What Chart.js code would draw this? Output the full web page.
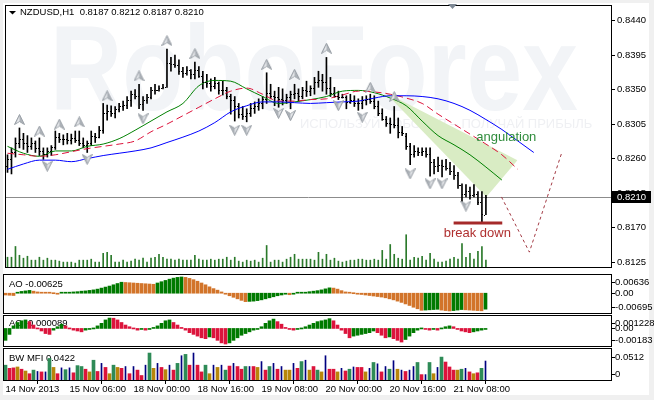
<!DOCTYPE html>
<html>
<head>
<meta charset="utf-8">
<script src="https://cdn.jsdelivr.net/npm/chart.js@4.4.1/dist/chart.umd.min.js"></script>
<style>
  html, body { margin: 0; padding: 0; }
  body { width: 654px; height: 400px; background: #f0f0f0; position: relative; overflow: hidden; }
  #frame { position: absolute; left: 3px; top: 3px; width: 646px; height: 392px; background: #fff; }
  canvas { position: absolute; left: 0; }
</style>
</head>
<body>
<div id="frame"></div>
<canvas id="priceChart" width="654" height="273" style="top:0"></canvas>
<canvas id="aoChart" width="654" height="41" style="top:273px"></canvas>
<canvas id="acChart" width="654" height="33" style="top:314px"></canvas>
<canvas id="mfiChart" width="654" height="53" style="top:347px"></canvas>
<script>
// NZDUSD H1 bars (index 0 = first bar on screen)
const highs = [
  0.8265,0.8274,0.8287,0.8300,0.8293,0.8290,0.8287,0.8283,0.8287,0.8274,
  0.8274,0.8277,0.8296,0.8293,0.8291,0.8293,0.8292,0.8296,0.8296,0.8287,
  0.8283,0.8296,0.8293,0.8302,0.8332,0.8330,0.8329,0.8328,0.8332,0.8335,
  0.8341,0.8348,0.8350,0.8357,0.8341,0.8344,0.8353,0.8357,0.8355,0.8357,
  0.8403,0.8392,0.8395,0.8389,0.8379,0.8380,0.8376,0.8386,0.8380,0.8374,
  0.8370,0.8364,0.8366,0.8360,0.8361,0.8353,0.8344,0.8341,0.8332,0.8328,
  0.8325,0.8332,0.8334,0.8338,0.8341,0.8372,0.8357,0.8348,0.8353,0.8351,
  0.8344,0.8348,0.8357,0.8351,0.8353,0.8361,0.8355,0.8366,0.8374,0.8370,
  0.8392,0.8366,0.8353,0.8348,0.8344,0.8342,0.8344,0.8342,0.8338,0.8341,
  0.8342,0.8344,0.8342,0.8335,0.8325,0.8315,0.8313,0.8328,0.8313,0.8302,
  0.8293,0.8280,0.8277,0.8274,0.8274,0.8274,0.8274,0.8259,0.8262,0.8258,
  0.8259,0.8255,0.8251,0.8242,0.8227,0.8226,0.8223,0.8226,0.8217,0.8217,
  0.8212
];
const lows = [
  0.8242,0.8240,0.8262,0.8274,0.8272,0.8268,0.8272,0.8268,0.8264,0.8259,
  0.8262,0.8264,0.8272,0.8281,0.8278,0.8279,0.8279,0.8281,0.8277,0.8274,
  0.8268,0.8277,0.8281,0.8287,0.8293,0.8310,0.8315,0.8313,0.8321,0.8323,
  0.8325,0.8328,0.8338,0.8325,0.8323,0.8332,0.8338,0.8344,0.8348,0.8351,
  0.8353,0.8374,0.8379,0.8370,0.8366,0.8369,0.8364,0.8364,0.8366,0.8351,
  0.8353,0.8348,0.8351,0.8344,0.8343,0.8338,0.8318,0.8309,0.8313,0.8311,
  0.8308,0.8315,0.8319,0.8323,0.8325,0.8332,0.8338,0.8329,0.8327,0.8330,
  0.8332,0.8325,0.8338,0.8335,0.8338,0.8341,0.8342,0.8344,0.8353,0.8348,
  0.8344,0.8341,0.8340,0.8337,0.8339,0.8325,0.8332,0.8328,0.8323,0.8325,
  0.8330,0.8332,0.8325,0.8316,0.8310,0.8302,0.8293,0.8300,0.8287,0.8290,
  0.8272,0.8252,0.8262,0.8264,0.8264,0.8262,0.8237,0.8240,0.8243,0.8236,
  0.8245,0.8239,0.8233,0.8221,0.8204,0.8210,0.8207,0.8210,0.8200,0.8177,
  0.8187
];
const opens = [
  0.8250,0.8260,0.8268,0.8280,0.8285,0.8280,0.8276,0.8280,0.8274,0.8270,
  0.8266,0.8270,0.8275,0.8288,0.8285,0.8286,0.8284,0.8287,0.8284,0.8281,
  0.8278,0.8280,0.8290,0.8288,0.8297,0.8320,0.8322,0.8320,0.8325,0.8328,
  0.8330,0.8336,0.8344,0.8342,0.8331,0.8336,0.8340,0.8349,0.8350,0.8352,
  0.8354,0.8385,0.8384,0.8382,0.8374,0.8372,0.8375,0.8370,0.8376,0.8368,
  0.8360,0.8358,0.8355,0.8359,0.8350,0.8350,0.8342,0.8336,0.8328,0.8318,
  0.8315,0.8320,0.8326,0.8328,0.8333,0.8338,0.8345,0.8342,0.8340,0.8338,
  0.8336,0.8340,0.8344,0.8346,0.8342,0.8350,0.8348,0.8352,0.8360,0.8362,
  0.8360,0.8352,0.8346,0.8342,0.8340,0.8341,0.8334,0.8336,0.8333,0.8332,
  0.8336,0.8338,0.8335,0.8328,0.8320,0.8312,0.8306,0.8305,0.8304,0.8295,
  0.8290,0.8276,0.8266,0.8270,0.8268,0.8270,0.8266,0.8256,0.8250,0.8252,
  0.8250,0.8248,0.8244,0.8238,0.8226,0.8214,0.8218,0.8212,0.8214,0.8204,
  0.8187
];
const closes = [
  0.8260,0.8268,0.8280,0.8285,0.8280,0.8276,0.8280,0.8274,0.8270,0.8266,
  0.8270,0.8275,0.8288,0.8285,0.8286,0.8284,0.8287,0.8284,0.8281,0.8278,
  0.8280,0.8290,0.8288,0.8297,0.8320,0.8322,0.8320,0.8325,0.8328,0.8330,
  0.8336,0.8344,0.8342,0.8331,0.8336,0.8340,0.8349,0.8350,0.8352,0.8354,
  0.8385,0.8384,0.8382,0.8374,0.8372,0.8375,0.8370,0.8376,0.8368,0.8360,
  0.8358,0.8355,0.8359,0.8350,0.8350,0.8342,0.8336,0.8328,0.8318,0.8315,
  0.8320,0.8326,0.8328,0.8333,0.8338,0.8345,0.8342,0.8340,0.8338,0.8336,
  0.8340,0.8344,0.8346,0.8342,0.8350,0.8348,0.8352,0.8360,0.8362,0.8360,
  0.8352,0.8346,0.8342,0.8340,0.8341,0.8334,0.8336,0.8333,0.8332,0.8336,
  0.8338,0.8335,0.8328,0.8320,0.8312,0.8306,0.8305,0.8304,0.8295,0.8294,
  0.8276,0.8266,0.8270,0.8268,0.8270,0.8266,0.8256,0.8250,0.8252,0.8250,
  0.8248,0.8244,0.8238,0.8226,0.8214,0.8218,0.8212,0.8214,0.8204,0.8188,
  0.8210
];
const volumes = [
  1000,1000,2100,1200,900,1100,700,700,1000,700,
  900,700,700,600,500,500,500,400,700,700,
  700,800,500,500,1400,1500,1200,500,500,700,
  500,600,800,700,900,500,900,1000,1300,1000,
  800,800,700,800,700,700,700,1200,800,700,
  700,800,700,800,800,1000,700,1000,600,500,
  700,600,700,500,900,2200,500,700,700,500,
  800,1000,1300,800,800,800,800,700,1500,800,
  1300,700,900,600,500,600,700,700,800,800,
  700,700,800,700,1700,800,2300,1300,900,800,
  3300,700,1000,900,1100,700,1400,800,500,500,
  600,800,1000,800,2400,1000,1400,800,1600,2100,
  700
];

// Alligator lines, sampled every 4 bars (shifted forward past the last bar)
const maIdx = [0,4,8,12,16,20,24,28,32,36,40,44,48,52,56,60,64,68,72,76,80,84,88,92,96,100,104,108,112,116,120,124,128,132];
const lips = [0.8276,0.8267,0.8263,0.8270,0.8270,0.8276,0.8279,0.8286,0.8297,0.8309,0.8321,0.8332,0.8355,0.8362,0.8361,0.8351,0.8341,0.8332,0.8334,0.8337,0.8341,0.8348,0.8349,0.8346,0.8339,0.8329,0.8309,0.8290,0.8278,0.8265,0.8249,0.8232,null,null];
const teeth = [0.8267,0.8265,0.8263,0.8265,0.8269,0.8273,0.8276,0.8279,0.8283,0.8295,0.8305,0.8316,0.8327,0.8338,0.8348,0.8352,0.8344,0.8335,0.8335,0.8337,0.8338,0.8343,0.8348,0.8347,0.8344,0.8339,0.8332,0.8318,0.8305,0.8292,0.8279,0.8265,0.8246,null];
const jaw = [0.8246,0.8253,0.8258,0.8258,0.8256,0.8260,0.8264,0.8267,0.8270,0.8274,0.8281,0.8288,0.8296,0.8307,0.8321,0.8329,0.8334,0.8334,0.8333,0.8332,0.8333,0.8334,0.8335,0.8339,0.8342,0.8342,0.8341,0.8338,0.8332,0.8323,0.8311,0.8298,0.8283,0.8268];

// fractals
const fracUpIdx = [3,8,13,18,25,33,40,47,65,72,80,91,97];
const fracUpVal = [0.8311,0.8296,0.8305,0.8308,0.8342,0.8368,0.8414,0.8397,0.8383,0.8370,0.8404,0.8353,0.8341];
const fracDnIdx = [10,20,34,57,60,68,71,83,89,101,106,109,115];
const fracDnVal = [0.8250,0.8259,0.8312,0.8297,0.8297,0.8319,0.8316,0.8329,0.8314,0.8240,0.8227,0.8227,0.8198];

// hand-drawn analysis marks
const angUpperX = [94.6, 127.9];
const angUpperY = [0.8347, 0.8258];
const angLowerX = [94.6, 120.1, 127.9];
const angLowerY = [0.8347, 0.8210, 0.8258];
const forecastX = [123.9, 130.9, 139.1];
const forecastY = [0.8210, 0.8138, 0.8269];
const breakX = [111.9, 124.1];
const breakY = [0.8176, 0.8176];

// indicators
const aoVals = [
  -0.0007,-0.0008,-0.0009,0.0003,0.0007,0.0009,0.0011,0.0008,0.0005,0.0003,
  0.0002,0.0001,0.0000,-0.0001,0.0002,0.0003,0.0004,0.0005,0.0006,0.0008,
  0.0009,0.0011,0.0013,0.0016,0.0020,0.0024,0.0028,0.0033,0.0038,0.0043,
  0.0042,0.0041,0.0040,0.0039,0.0038,0.0037,0.0036,0.0035,0.0040,0.0045,
  0.0050,0.0055,0.0059,0.0062,0.00636,0.0062,0.0058,0.0053,0.0047,0.0040,
  0.0033,0.0025,0.0018,0.0012,0.0005,-0.0004,-0.0010,-0.0016,-0.0022,-0.0028,
  -0.0033,-0.0032,-0.0031,-0.0029,-0.0026,-0.0022,-0.0018,-0.0014,-0.0010,-0.0007,
  -0.0004,-0.0006,-0.0002,0.0001,0.0003,0.0004,0.0006,0.0008,0.0010,0.0013,
  0.0017,0.0021,0.0020,0.0016,0.0010,0.0005,0.0002,0.0000,-0.0003,-0.0005,
  -0.0007,-0.0009,-0.0011,-0.0013,-0.0015,-0.0018,-0.0022,-0.0026,-0.0031,-0.0036,
  -0.0042,-0.0048,-0.0055,-0.0061,-0.0067,-0.0066,-0.0065,-0.0064,-0.0063,-0.0066,
  -0.0068,-0.00695,-0.0068,-0.0066,-0.0064,-0.0065,-0.0066,-0.0067,-0.0068,-0.0069,
  -0.00625
];
const acVals = [
  -0.0014,-0.0007,0.0003,0.0007,0.0009,0.0010,0.0008,0.0004,0.0000,-0.0003,
  -0.0006,-0.0007,-0.0002,0.0002,0.0005,0.0003,0.0000,-0.0002,-0.0003,-0.0004,
  -0.0002,-0.0001,0.0000,0.0003,0.0006,0.0010,0.00122,0.0012,0.0010,0.0007,
  0.0004,0.0002,0.0000,-0.0002,-0.0001,-0.0002,-0.0001,0.0001,0.0003,0.0006,
  0.0009,0.0010,0.0007,0.0004,0.0001,-0.0002,-0.0005,-0.0007,-0.0009,-0.0011,
  -0.0012,-0.0010,-0.0011,-0.0014,-0.0017,-0.00183,-0.0017,-0.0014,-0.0011,-0.0008,
  -0.0006,-0.0004,-0.0002,-0.0001,0.0002,0.0006,0.0009,0.0011,0.0008,0.0005,
  0.0001,-0.0001,-0.0002,-0.0001,0.0000,0.0002,0.0004,0.0006,0.0008,0.0009,
  0.0010,0.00115,0.0009,0.0004,-0.0002,-0.0006,-0.0011,-0.0009,-0.0008,-0.0007,
  -0.0006,-0.0005,-0.0003,-0.0005,-0.0008,-0.0011,-0.0010,-0.0012,-0.0014,-0.0016,
  -0.0013,-0.0009,-0.0005,-0.0002,0.0000,-0.0001,-0.0002,-0.0001,-0.0002,0.0000,
  0.0002,0.0003,0.0002,-0.0001,-0.0003,-0.0004,-0.0005,-0.0004,-0.0003,-0.0002,
  -0.000089
];
const mfiVals = [
  0.033,0.026,0.027,0.029,0.024,0.020,0.014,0.022,0.019,0.018,
  0.018,0.048,0.028,0.014,0.027,0.023,0.027,0.016,0.032,0.030,
  0.024,0.018,0.044,0.019,0.037,0.028,0.014,0.033,0.028,0.026,
  0.030,0.014,0.030,0.022,0.010,0.033,0.060,0.026,0.037,0.028,
  0.023,0.033,0.022,0.037,0.054,0.057,0.033,0.060,0.033,0.018,
  0.033,0.014,0.033,0.028,0.033,0.022,0.031,0.037,0.030,0.024,
  0.030,0.030,0.030,0.028,0.041,0.022,0.030,0.037,0.024,0.030,
  0.022,0.022,0.037,0.026,0.041,0.044,0.022,0.030,0.022,0.018,
  0.054,0.024,0.024,0.018,0.026,0.020,0.024,0.029,0.028,0.028,
  0.018,0.026,0.039,0.036,0.018,0.030,0.024,0.043,0.024,0.022,
  0.019,0.022,0.030,0.039,0.012,0.012,0.039,0.014,0.028,0.051,
  0.040,0.029,0.022,0.022,0.024,0.026,0.018,0.014,0.016,0.026,
  0.0422
];
// g = green, f = fade, k = fake, s = squat
const mfiType = ('gssfsfsgks' + 'kgfskgksgg' + 'sfgsksfgfs' + 'ksksskgfks' + 'fksgkgskss' +
  'gfkfkgskss' + 'gksfksgksk' + 'ffksgkfsgf' + 'kssfksgkss' + 'fkgkskgkfk' +
  'skkgskgfkg' + 'sssfgksfsg' + 'k').split('');

const priceTicks = [0.8440, 0.8395, 0.8350, 0.8305, 0.8260, 0.8215, 0.8170, 0.8125];
const aoMarks = [0.00636, 0, -0.00695];
const aoMarkLabels = ['0.00636', '0.00', '-0.00695'];
const acMarks = [0.001228, 0, -0.00183];
const acMarkLabels = ['0.001228', '0.00', '-0.00183'];
const mfiMarks = [0.0512, 0];
const mfiMarkLabels = ['0.0512', '0'];
const timeTickIdx = [0, 16, 32, 48, 64, 80, 96, 112];
const timeLabels = ['14 Nov 2013', '15 Nov 06:00', '18 Nov 00:00', '18 Nov 16:00', '19 Nov 08:00', '20 Nov 00:00', '20 Nov 16:00', '21 Nov 08:00'];

const FONT = "'Liberation Sans', Arial, sans-serif";
Chart.defaults.font.family = FONT;
Chart.defaults.font.size = 9.5;
Chart.defaults.color = '#000';

const last = closes.length - 1;
const pts = (xs, ys) => xs.map((x, k) => ({x, y: ys[k]}));

function xAxis() {
  return { type: 'linear', min: -0.375, max: 151.375, offset: false, display: false };
}

function trendColors(vals, up, down, firstUp) {
  return vals.map((v, i) => (i === 0 ? firstUp : v > vals[i - 1]) ? up : down);
}

function arrowGlyph() {
  const c = document.createElement('canvas');
  c.width = 11; c.height = 11;
  const g = c.getContext('2d');
  g.beginPath();
  g.moveTo(5.5, 0.5); g.lineTo(10.5, 10.5); g.lineTo(5.5, 7.5); g.lineTo(0.5, 10.5); g.closePath();
  g.fillStyle = '#adb2b8'; g.fill();
  g.strokeStyle = '#9aa0a7'; g.lineWidth = 1; g.stroke();
  g.beginPath(); g.moveTo(5.5, 2); g.lineTo(5.5, 7); g.lineTo(2, 9.3); g.closePath();
  g.fillStyle = '#e6e8eb'; g.fill();
  return c;
}
const arrow = arrowGlyph();

// frame, title and right-hand labels for every window
const panelFrame = {
  id: 'panelFrame',
  beforeDatasetsDraw(chart, args, opts) {
    const {ctx, chartArea: a} = chart;
    if (!opts.title) return;
    ctx.save();
    ctx.font = `9.5px ${FONT}`;
    ctx.fillStyle = '#000';
    ctx.textBaseline = 'middle';
    ctx.fillText(opts.title, a.left + 5, a.top + opts.titleDy);
    ctx.restore();
  },
  afterDraw(chart, args, opts) {
    const {ctx, chartArea: a} = chart;
    ctx.save();
    ctx.strokeStyle = '#000';
    ctx.lineWidth = 1;
    ctx.strokeRect(a.left - 0.5, a.top - 0.5, a.right - a.left + 1, a.bottom - a.top + 1);
    if (opts.marks) {
      const y = chart.scales.y;
      ctx.font = `9.5px ${FONT}`;
      ctx.fillStyle = '#000';
      ctx.textBaseline = 'middle';
      opts.marks.forEach((v, k) => {
        let py = y.getPixelForValue(v);
        py = Math.min(Math.max(py, a.top + 7), a.bottom - 6);
        ctx.fillRect(a.right + 1, Math.round(py), 3, 1);
        ctx.fillText(opts.labels[k], a.right + 4, py);
      });
    }
    ctx.restore();
  }
};

// watermark, bid line, OHLC ticks, notes and the price box
const priceDecor = {
  id: 'priceDecor',
  beforeDatasetsDraw(chart) {
    const {ctx, chartArea: a, scales: {y}} = chart;
    ctx.save();
    ctx.beginPath(); ctx.rect(a.left, a.top, a.right - a.left, a.bottom - a.top); ctx.clip();
    ctx.fillStyle = '#f2f4f7';
    ctx.save();
    ctx.translate(50, 110); ctx.scale(1, 1.2);
    ctx.font = `bold 100px ${FONT}`;
    ctx.fillText('RoboForex', 0, 0);
    ctx.restore();
    ctx.font = `13px ${FONT}`;
    ctx.fillStyle = '#eff0f3';
    ctx.textBaseline = 'middle';
    ctx.fillText('ИСПОЛЬЗУЙ РОБОТОВ – ПОЛУЧАЙ ПРИБЫЛЬ', 300, 124);
    const by = Math.round(y.getPixelForValue(closes[last])) + 0.5;
    ctx.strokeStyle = '#8c8c8c';
    ctx.lineWidth = 1;
    ctx.beginPath(); ctx.moveTo(a.left, by); ctx.lineTo(a.right, by); ctx.stroke();
    ctx.restore();
  },
  afterDatasetsDraw(chart, args, opts) {
    const {ctx, scales: {x, y}} = chart;
    ctx.save();
    ctx.fillStyle = '#000';
    opens.forEach((o, i) => {
      const col = Math.floor(x.getPixelForValue(i));
      ctx.fillRect(col - 1, Math.round(y.getPixelForValue(o)), 1, 1);
      ctx.fillRect(col + 1, Math.round(y.getPixelForValue(closes[i])), 1, 1);
    });
    ctx.textBaseline = 'middle';
    ctx.font = `13px ${FONT}`;
    opts.notes.forEach(n => {
      ctx.fillStyle = n.color;
      ctx.fillText(n.text, x.getPixelForValue(n.x), y.getPixelForValue(n.y));
    });
    ctx.restore();
  },
  afterDraw(chart) {
    const {ctx, chartArea: a, scales: {y}} = chart;
    ctx.save();
    // title
    ctx.fillStyle = '#000';
    ctx.beginPath(); ctx.moveTo(9, 11); ctx.lineTo(16, 11); ctx.lineTo(12.5, 14.5); ctx.closePath(); ctx.fill();
    ctx.font = `9.5px ${FONT}`;
    ctx.textBaseline = 'middle';
    const ohlc = [opens, highs, lows, closes].map(s => s[last].toFixed(4)).join(' ');
    ctx.fillText('NZDUSD,H1  ' + ohlc, 20, 12.5);
    // chart shift marker
    ctx.fillStyle = '#7d8894';
    ctx.beginPath(); ctx.moveTo(448, 4); ctx.lineTo(457, 4); ctx.lineTo(452.5, 9); ctx.closePath(); ctx.fill();
    // current price box
    const py = Math.round(y.getPixelForValue(closes[last]));
    ctx.fillStyle = '#000';
    ctx.fillRect(a.right + 1, py - 6, 39, 12);
    ctx.fillStyle = '#fff';
    ctx.fillText(closes[last].toFixed(4), a.right + 6, py + 0.5);
    ctx.restore();
  }
};

new Chart(document.getElementById('priceChart'), {
  type: 'line',
  data: {
    datasets: [
      { type: 'line', data: pts(angUpperX, angUpperY), borderWidth: 0, pointRadius: 0, fill: false, order: 20 },
      { type: 'line', data: pts(angLowerX, angLowerY), borderWidth: 0, pointRadius: 0, fill: '-1',
        backgroundColor: '#d9ecc4', order: 19 },
      { type: 'bar', data: volumes.map((v, i) => ({x: i, y: v})), yAxisID: 'yv', backgroundColor: '#2b7a2b',
        barThickness: 1, grouped: false, order: 15 },
      { type: 'bar', data: highs.map((h, i) => ({x: i, y: [lows[i], h]})), backgroundColor: '#000',
        barThickness: 1, grouped: false, order: 5 },
      { type: 'line', data: pts(maIdx, jaw), borderColor: '#0000ff', borderWidth: 1, pointRadius: 0,
        cubicInterpolationMode: 'monotone', order: 3 },
      { type: 'line', data: pts(maIdx, teeth), borderColor: '#dc143c', borderWidth: 1, borderDash: [7, 4],
        pointRadius: 0, cubicInterpolationMode: 'monotone', order: 3 },
      { type: 'line', data: pts(maIdx, lips), borderColor: '#008000', borderWidth: 1, pointRadius: 0,
        cubicInterpolationMode: 'monotone', order: 3 },
      { type: 'line', data: pts(forecastX, forecastY), borderColor: '#a33a44', borderWidth: 1,
        borderDash: [3, 3], pointRadius: 0, order: 1 },
      { type: 'line', data: pts(breakX, breakY), borderColor: '#a52a2a', borderWidth: 3, pointRadius: 0, order: 1 },
      { type: 'scatter', data: pts(fracUpIdx, fracUpVal), pointStyle: arrow, pointRadius: 5, order: 0 },
      { type: 'scatter', data: pts(fracDnIdx, fracDnVal), pointStyle: arrow, pointRotation: 180, pointRadius: 5, order: 0 }
    ]
  },
  options: {
    responsive: false, animation: false, devicePixelRatio: 1, events: [],
    layout: { padding: { top: 5, left: 4, right: 0, bottom: 1 } },
    plugins: {
      legend: { display: false }, tooltip: { enabled: false },
      panelFrame: {},
      priceDecor: {
        notes: [
          { text: 'angulation', x: 117.6, y: 0.8288, color: '#2f8c3c' },
          { text: 'break down', x: 109.4, y: 0.8162, color: '#b03030' }
        ]
      }
    },
    scales: {
      x: xAxis(),
      y: {
        position: 'right', min: 0.81186, max: 0.84591,
        afterBuildTicks: s => { s.ticks = priceTicks.map(v => ({value: v})); },
        afterFit: s => { s.width = 43; s.paddingTop = 0; s.paddingBottom = 0; },
        grid: { drawOnChartArea: false, tickLength: 4, color: '#000' },
        border: { display: false },
        ticks: { padding: 2, autoSkip: false, callback: v => v.toFixed(4) }
      },
      yv: { display: false, min: 0, max: 26700 }
    }
  },
  plugins: [panelFrame, priceDecor]
});

function subPanel(id, datasets, yMin, yMax, frame, showTime) {
  const x = xAxis();
  if (showTime) {
    Object.assign(x, {
      display: true, position: 'bottom',
      afterBuildTicks: s => { s.ticks = timeTickIdx.map(v => ({value: v})); },
      afterFit: s => { s.height = 19; s.paddingLeft = 0; s.paddingRight = 0; },
      grid: { drawOnChartArea: false, tickLength: 4, color: '#000' },
      border: { display: true, color: '#000' },
      ticks: { autoSkip: false, maxRotation: 0, minRotation: 0, align: 'start', padding: 0,
        callback: (v, k) => timeLabels[k] }
    });
  }
  return new Chart(document.getElementById(id), {
    type: 'bar',
    data: { datasets },
    options: {
      responsive: false, animation: false, devicePixelRatio: 1, events: [],
      layout: { padding: { top: 2, left: 4, right: 43, bottom: 1 } },
      plugins: { legend: { display: false }, tooltip: { enabled: false }, panelFrame: frame },
      scales: { x, y: { display: false, min: yMin, max: yMax } }
    },
    plugins: [panelFrame]
  });
}

subPanel('aoChart', [{
  data: aoVals.map((v, i) => ({x: i, y: v})),
  backgroundColor: trendColors(aoVals, '#007a00', '#d2742a', false),
  barThickness: 3, grouped: false, minBarLength: 1
}], -0.00775, 0.00713, {
  title: 'AO ' + aoVals[last].toFixed(5), titleDy: 9, marks: aoMarks, labels: aoMarkLabels
}, false);

subPanel('acChart', [{
  data: acVals.map((v, i) => ({x: i, y: v})),
  backgroundColor: trendColors(acVals, '#007a00', '#dc143c', true),
  barThickness: 3, grouped: false, minBarLength: 1
}], -0.002065, 0.001463, {
  title: 'AC ' + acVals[last].toFixed(6), titleDy: 7, marks: acMarks, labels: acMarkLabels
}, false);

const mfiColor = { g: '#2e8b57', f: '#b8860b', k: '#000080', s: '#dc143c' };
subPanel('mfiChart', Object.keys(mfiColor).map(t => ({
  data: mfiVals.map((v, i) => ({x: i, y: mfiType[i] === t ? v : null})),
  backgroundColor: mfiColor[t],
  barThickness: t === 'k' ? 1 : 3, grouped: false
})), 0, 0.069, {
  title: 'BW MFI ' + mfiVals[last].toFixed(4), titleDy: 9, marks: mfiMarks, labels: mfiMarkLabels
}, true);
</script>
</body>
</html>
